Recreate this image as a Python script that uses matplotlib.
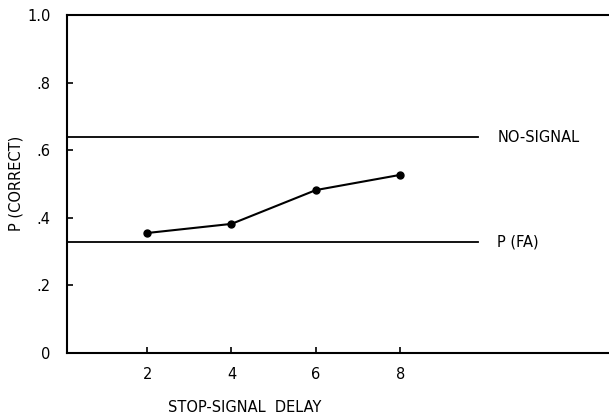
import numpy as np
from matplotlib import pyplot as plt

# stop-signal data
delay = [2, 4, 6, 8]
pCorrect = [0.355, 0.382, 0.482, 0.527]
noSignal = 0.639
pFA = 0.328
refEnd = 9.85

yTicks = [0, 0.2, 0.4, 0.6, 0.8, 1.0]
yTickLabels = ['0', '.2', '.4', '.6', '.8', '1.0']
xTicks = [2, 4, 6, 8]

fig = plt.figure(figsize=(6.09, 4.18), dpi=100)
ax = fig.add_axes([67/609, 1 - 353/418, 1 - 67/609, (353 - 15)/418])

ax.plot(delay, pCorrect, color='black', lw=1.5, marker='o', ms=5)
ax.plot([0.1, refEnd], [noSignal, noSignal], color='black', lw=1.3)
ax.plot([0.1, refEnd], [pFA, pFA], color='black', lw=1.3)

ax.text(10.3, noSignal, 'NO-SIGNAL', va='center', ha='left', fontsize=10.5)
ax.text(10.3, pFA, 'P (FA)', va='center', ha='left', fontsize=10.5)

ax.set_xlim(0.1, 12.95)
ax.set_ylim(0, 1.0)
ax.set_xticks(xTicks)
ax.set_yticks(yTicks)
ax.set_yticklabels(yTickLabels)
ax.tick_params(direction='in', length=4, width=1.2, labelsize=10.5)
ax.tick_params(axis='y', pad=12)
ax.tick_params(axis='x', pad=10)

for side in ['left', 'bottom', 'top']:
    ax.spines[side].set_linewidth(1.5)
ax.spines['right'].set_visible(False)

fig.text(245/609, 1 - 408/418, 'STOP-SIGNAL  DELAY', ha='center', va='center', fontsize=10.5)
fig.text(16/609, 1 - 183/418, 'P (CORRECT)', ha='center', va='center', rotation=90, fontsize=10.5)

fig.savefig('out.png', dpi=100)
